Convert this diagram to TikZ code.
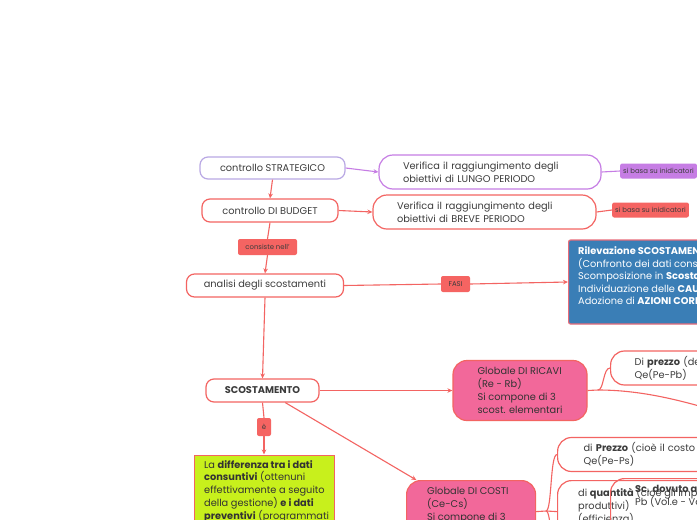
\documentclass[tikz,border=0pt]{standalone}
\usepackage{fontspec}
\setmainfont{Poppins}
\usetikzlibrary{arrows.meta}
\definecolor{redc}{RGB}{243,100,98}
\definecolor{tagred}{RGB}{245,100,98}
\definecolor{lav}{RGB}{185,168,228}
\definecolor{purp}{RGB}{198,125,228}
\definecolor{pinkc}{RGB}{242,104,154}
\definecolor{bluec}{RGB}{58,126,182}
\definecolor{bluebd}{RGB}{232,108,122}
\definecolor{limec}{RGB}{200,240,28}
\definecolor{txt}{RGB}{60,60,60}
\newcommand\fn{\fontsize{9.8}{12.9}\selectfont}
\newcommand\fs{\fontsize{6.9}{8}\selectfont}
\begin{document}
\begin{tikzpicture}[x=1pt,y=-1pt,
  pill/.style={rectangle, rounded corners=8pt, draw=redc, line width=1.2pt, fill=white, text=txt, font=\fn, inner sep=0pt},
  bigbox/.style={rectangle, rounded corners=14pt, draw=redc, line width=1.2pt, fill=white, text=txt, font=\fn, align=left, inner ysep=0pt},
  tag/.style={rectangle, rounded corners=2pt, fill=tagred, text=txt, font=\fs, inner xsep=3pt, inner ysep=0pt, minimum height=15pt},
  txtnode/.style={text=txt, font=\fn, align=left, inner sep=0pt, anchor=north west},
  rline/.style={draw=redc, line width=1.1pt},
  arr/.style={-{Stealth[length=5pt,width=4.5pt]}}
]
\useasboundingbox (0,0) rectangle (697,520);
\clip (0,0) rectangle (697,520);
\fill[white] (0,0) rectangle (697,520);

% top row
\node[pill, draw=lav, minimum width=145pt, minimum height=22pt] (strat) at (272.5,168) {controllo STRATEGICO};
\node[bigbox, draw=purp, text width=174pt, inner xsep=24pt, minimum height=34pt] (lungo) at (490,172) {Verifica il raggiungimento degli\\obiettivi di LUNGO PERIODO};
\node[tag, fill=purp, anchor=west] (tagL) at (620,171) {si basa su inidicatori};
\draw[draw=purp, line width=1.1pt, arr] (strat.east) -- (lungo.west);
\draw[draw=purp, line width=1.1pt] (lungo.east) -- (tagL.west);

\node[pill, minimum width=136pt, minimum height=23pt] (budget) at (270,210.5) {controllo DI BUDGET};
\node[bigbox, text width=175pt, inner xsep=24pt, minimum height=34pt] (breve) at (484.5,212) {Verifica il raggiungimento degli\\obiettivi di BREVE PERIODO};
\node[tag, anchor=west] (tagB) at (612,210) {si basa su inidicatori};
\draw[rline, arr] (strat.south) -- (budget.north);
\draw[rline, arr] (budget.east) -- (breve.west);
\draw[rline] (breve.east) -- (tagB.west);

% analisi
\node[tag, minimum width=59pt, minimum height=16pt] (cons) at (267.5,247) {consiste nell'};
\node[pill, minimum width=157pt, minimum height=23pt] (analisi) at (265,285.5) {analisi degli scostamenti};
\draw[rline] (budget.south) -- (cons.north);
\draw[rline, arr] (cons.south) -- (analisi.north);

\node[tag, minimum width=29pt, minimum height=16pt] (fasi) at (455.5,284) {FASI};
\node[rectangle, rounded corners=2pt, fill=bluec, draw=bluebd, line width=1.2pt, minimum width=240pt, minimum height=84pt, anchor=west, inner sep=0pt] (blue) at (568,282) {};
\node[txtnode, text=white, font=\fontsize{9.8}{12.5}\selectfont] (bluetxt) at (578,246.5) {\textbf{Rilevazione SCOSTAMENTI}\\(Confronto dei dati consuntivi\\Scomposizione in \textbf{Scostamenti}\\Individuazione delle \textbf{CAUSE}\\Adozione di \textbf{AZIONI CORRETTIVE}};
\draw[rline] (analisi.east) -- (fasi.west);
\draw[rline, arr] (fasi.east) -- (blue.west);

% scostamento
\node[pill, minimum width=113pt, minimum height=23pt, font=\fn\bfseries] (scost) at (262.5,390.5) {SCOSTAMENTO};
\draw[rline, arr] (analisi.south) -- (scost.north);

\node[tag, minimum width=14pt, minimum height=18pt] (e) at (264,427) {è};
\node[rectangle, fill=limec, draw=redc, line width=1pt, minimum width=140pt, minimum height=90pt, anchor=north, inner sep=0pt] (green) at (264,454.5) {};
\node[txtnode, text=black!80] (greentxt) at (204,460) {La \textbf{differenza tra i dati}\\\textbf{consuntivi} (ottenuni\\effettivamente a seguito\\della gestione) \textbf{e i dati}\\\textbf{preventivi} (programmati};
\draw[rline] (scost.south) -- (e.north);
\draw[rline, arr] (e.south) -- (green.north);

% ricavi
\node[bigbox, fill=pinkc, text=black!80, minimum width=134pt, minimum height=60pt, inner xsep=0pt] (ricavi) at (520,390.5) {Globale DI RICAVI\\(Re - Rb)\\Si compone di 3\\scost. elementari};
\draw[rline, arr] (scost.east) -- (ricavi.west);

\node[bigbox, text width=152pt, inner xsep=24pt, minimum height=34pt, anchor=west] (prezzoR) at (610,368) {Di \textbf{prezzo} (dei ricavi)\\Qe(Pe-Pb)};
\coordinate (rb) at (598,390);
\coordinate (rbend) at (760,425);
\draw[rline] (ricavi.east) -- (rb) .. controls (604,390) and (603,368) .. (prezzoR.west);
\draw[rline] (rb) .. controls (650,390) and (700,405) .. (rbend);

% costi
\node[rectangle, rounded corners=14pt, fill=pinkc, draw=redc, line width=1.2pt, minimum width=129pt, minimum height=62pt, anchor=north west, inner sep=0pt] (costi) at (406,480) {};
\node[txtnode, text=black!80] (costitxt) at (427,487) {Globale DI COSTI\\(Ce-Cs)\\Si compone di 3\\scost. elementari};
\draw[rline, arr] (scost.-28) -- (costi.150);

\node[bigbox, text width=200pt, inner xsep=26pt, minimum height=34pt, anchor=west] (prezzoC) at (557,454.5) {di \textbf{Prezzo} (cioè il costo unitario)\\Qe(Pe-Ps)};
\node[rectangle, rounded corners=14pt, draw=redc, line width=1.2pt, fill=white, minimum width=250pt, minimum height=62pt, anchor=north west, inner sep=0pt] (quant) at (557,480) {};
\node[txtnode] (quanttxt) at (578,487) {di \textbf{quantità} (cioè gli impieghi dei fattori\\produttivi)\\(efficienza)};
\node[rectangle, rounded corners=14pt, draw=redc, line width=1.2pt, minimum width=200pt, minimum height=62pt, anchor=north west, inner sep=0pt] (scdov) at (610,478) {};
\node[txtnode] (scdovtxt) at (635,484) {\textbf{Sc. dovuto a quantità}\\Pb (Vol.e - Vol.b)};
\coordinate (cb) at (546,511);
\coordinate (cdown) at (557,570);
\draw[rline] (costi.east) -- (cb) .. controls (552,511) and (550,454.5) .. (prezzoC.west);
\draw[rline] (cb) -- (quant.west);
\draw[rline] (cb) .. controls (552,511) and (550,560) .. (cdown);
\end{tikzpicture}
\end{document}
